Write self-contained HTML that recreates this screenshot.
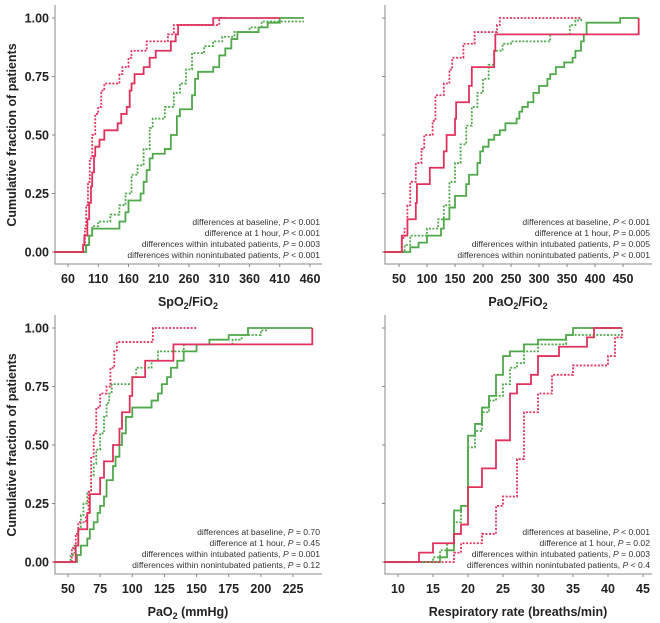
<!DOCTYPE html>
<html><head><meta charset="utf-8"><style>
body{margin:0;background:#fff;}
svg{display:block;font-family:"Liberation Sans",sans-serif;}
.tk{font-size:12.5px;font-weight:bold;fill:#222;}
.ttl{font-size:12.5px;font-weight:bold;fill:#222;}
.ann{font-size:8.6px;fill:#333;}
</style></head><body>
<svg id="c" width="660" height="623" viewBox="0 0 660 623"></svg>
<script>
// Panel 1: SpO2/FiO2
const p1Ticks=[60,110,160,210,260,310,360,410,460];
const p1RedSolidX=[85,87,92,95,98,100,103,105,112,120,142,148,157,162,165,170,185,195,205,230,238,242,300];
const p1RedSolidY=[0.03,0.07,0.14,0.21,0.28,0.34,0.41,0.45,0.48,0.52,0.55,0.59,0.62,0.69,0.72,0.76,0.79,0.83,0.86,0.90,0.93,0.97,1.0];
const p1RedDotX=[85,88,90,93,96,100,105,110,115,120,145,150,160,165,190,225,235,310];
const p1RedDotY=[0.03,0.10,0.20,0.30,0.40,0.50,0.59,0.62,0.69,0.72,0.76,0.79,0.83,0.86,0.90,0.93,0.97,1.0];
const p1GreenSolidX=[90,95,100,145,155,160,180,185,190,195,200,220,230,240,245,265,270,275,300,310,320,330,340,375,390,410];
const p1GreenSolidY=[0.03,0.07,0.10,0.13,0.17,0.22,0.25,0.30,0.35,0.40,0.42,0.44,0.50,0.58,0.61,0.67,0.74,0.77,0.79,0.84,0.87,0.91,0.94,0.96,0.98,1.0];
const p1GreenDotX=[90,95,100,110,130,145,155,165,175,185,195,200,220,235,245,255,265,285,300,315,335,360,380];
const p1GreenDotY=[0.03,0.07,0.11,0.13,0.16,0.20,0.25,0.33,0.37,0.44,0.53,0.57,0.62,0.68,0.72,0.78,0.85,0.88,0.90,0.92,0.94,0.96,0.985];
// Panel 2: PaO2/FiO2
const p2Ticks=[50,100,150,200,250,300,350,400,450];
const p2RedSolidX=[55,65,80,82,105,130,135,150,152,175,180,220,222,478];
const p2RedSolidY=[0.07,0.14,0.21,0.29,0.36,0.43,0.50,0.57,0.64,0.71,0.79,0.86,0.93,1.0];
const p2RedDotX=[55,60,65,70,80,90,95,110,115,130,140,145,165,185,225,230];
const p2RedDotY=[0.06,0.10,0.20,0.30,0.38,0.44,0.50,0.56,0.67,0.72,0.78,0.83,0.89,0.94,0.97,1.0];
const p2GreenSolidX=[70,85,100,125,130,140,150,170,175,190,195,200,210,220,230,240,260,265,270,280,290,300,315,320,330,345,360,365,375,380,385,445];
const p2GreenSolidY=[0.02,0.04,0.07,0.10,0.14,0.19,0.24,0.29,0.33,0.38,0.43,0.45,0.48,0.50,0.52,0.55,0.57,0.60,0.62,0.64,0.68,0.71,0.74,0.76,0.79,0.81,0.83,0.86,0.90,0.93,0.98,1.0];
const p2GreenDotX=[60,70,100,120,130,140,150,160,170,180,190,200,210,220,235,250,320,355,365,375];
const p2GreenDotY=[0.03,0.07,0.10,0.14,0.20,0.30,0.38,0.46,0.54,0.62,0.68,0.74,0.80,0.86,0.89,0.90,0.93,0.97,0.99,1.0];
// Panel 3: PaO2
const p3Ticks=[50,75,100,125,150,175,200,225];
const p3RedSolidX=[56,58,65,67,75,78,85,90,92,98,100,110,132,240];
const p3RedSolidY=[0.07,0.14,0.21,0.29,0.36,0.43,0.50,0.57,0.64,0.71,0.79,0.86,0.93,1.0];
const p3RedDotX=[53,56,58,64,66,68,70,72,75,80,83,86,88,116];
const p3RedDotY=[0.06,0.12,0.17,0.20,0.30,0.45,0.55,0.66,0.72,0.75,0.83,0.90,0.94,1.0];
const p3GreenSolidX=[57,60,65,67,70,73,75,78,80,85,87,90,92,95,100,115,120,123,127,130,135,140,150,160,175,190];
const p3GreenSolidY=[0.03,0.07,0.10,0.14,0.17,0.21,0.24,0.28,0.35,0.41,0.45,0.50,0.55,0.62,0.66,0.69,0.72,0.76,0.79,0.83,0.86,0.90,0.93,0.95,0.97,1.0];
const p3GreenDotX=[52,55,58,60,62,65,68,70,72,75,78,80,82,84,100,103,115,120,140,178,185,200];
const p3GreenDotY=[0.03,0.07,0.14,0.20,0.25,0.30,0.37,0.42,0.48,0.55,0.62,0.68,0.72,0.76,0.79,0.83,0.86,0.90,0.93,0.95,0.97,0.99];
// Panel 4: Respiratory rate
const p4Ticks=[10,15,20,25,30,35,40,45];
const p4RedSolidX=[13,15,18,19,20,22,24,26,27,29,30,33,37,38];
const p4RedSolidY=[0.04,0.08,0.12,0.16,0.32,0.40,0.52,0.72,0.76,0.80,0.88,0.92,0.96,1.0];
const p4RedDotX=[18,19,22,24,25,27,28,30,32,35,40,41,42];
const p4RedDotY=[0.04,0.08,0.12,0.24,0.28,0.44,0.64,0.72,0.80,0.84,0.88,0.96,1.0];
const p4GreenSolidX=[16,17,18,19,20,21,22,23,24,25,26,28,30,34,35];
const p4GreenSolidY=[0.02,0.05,0.22,0.24,0.54,0.59,0.66,0.71,0.80,0.88,0.90,0.93,0.95,0.97,1.0];
const p4GreenDotX=[15,16,17,18,19,20,21,22,23,24,25,26,27,28,30,34];
const p4GreenDotY=[0.02,0.05,0.08,0.17,0.24,0.49,0.56,0.64,0.69,0.71,0.76,0.83,0.85,0.90,0.93,0.97];
const yTicks=[0,0.25,0.5,0.75,1.0];
const yTickLabels=["0.00","0.25","0.50","0.75","1.00"];

const NS="http://www.w3.org/2000/svg";
const svg=document.getElementById('c');
function mk(tag,attrs,parent){const e=document.createElementNS(NS,tag);for(const k in attrs)e.setAttribute(k,attrs[k]);(parent||svg).appendChild(e);return e;}
const RED="#e0325c",GREEN="#4fa84a";

function panel(cfg){
  const g=mk('g',{});
  
  
  const L=cfg.ox+55,R=cfg.ox+322,T0=cfg.oy+18,B0=cfg.oy+252,AX=cfg.oy+264;
  const sx=v=>cfg.px0+(v-cfg.v0)*(cfg.px1-cfg.px0)/(cfg.v1-cfg.v0);
  const sy=v=>B0-(B0-T0)*v;
  const ax=mk('path',{d:`M${L} ${cfg.oy+5}V${AX}H${R}`,fill:'none',stroke:'#888','stroke-width':1},g);
  
  yTicks.forEach((t,i)=>{
    mk('line',{x1:L-3,x2:L,y1:sy(t),y2:sy(t),stroke:'#888'},g);
    if(cfg.showY){const tx=mk('text',{x:L-6,y:sy(t)+4.5,'text-anchor':'end',class:'tk'},g);tx.textContent=yTickLabels[i];
    }
  });
  cfg.ticks.forEach(t=>{
    mk('line',{x1:sx(t),x2:sx(t),y1:AX,y2:AX+3,stroke:'#888'},g);
    const tx=mk('text',{x:sx(t),y:AX+19,'text-anchor':'middle',class:'tk'},g);tx.textContent=t;
    
  });
  const xt=mk('text',{x:cfg.ox+188,y:cfg.oy+306,'text-anchor':'middle',class:'ttl'},g);
  xt.innerHTML=cfg.xtitle;
  
  if(cfg.showY){
    const yt=mk('text',{x:0,y:0,'text-anchor':'middle',class:'ttl',transform:`translate(16 ${cfg.oy+135}) rotate(-90)`},g);
    yt.textContent='Cumulative fraction of patients';
    
  }
  function step(xs,ys,color,dot,end,nm){
    let d=`M${sx(cfg.vmin)} ${sy(0)}`;
    let y=0;
    xs.forEach((x,i)=>{d+=`H${sx(x)}V${sy(ys[i])}`;y=ys[i];});
    d+=`H${sx(end)}`;
    const p=mk('path',{d,fill:'none',stroke:color,'stroke-width':1.8,'stroke-dasharray':dot?'2,1.6':'none'},g);
    
  }
  step(cfg.gd[0],cfg.gd[1],GREEN,true,cfg.ends[3],'green-dotted-series');
  step(cfg.gs[0],cfg.gs[1],GREEN,false,cfg.ends[2],'green-solid-series');
  step(cfg.rd[0],cfg.rd[1],RED,true,cfg.ends[1],'red-dotted-series');
  step(cfg.rs[0],cfg.rs[1],RED,false,cfg.ends[0],'red-solid-series');
  cfg.ann.forEach((a,i)=>{
    const tx=mk('text',{x:cfg.ox+320,y:cfg.oy+225+i*11,'text-anchor':'end',class:'ann'},g);
    tx.innerHTML=a;
    
  });
}
const P='<tspan font-style="italic">P</tspan>';
panel({name:'panel-spo2-fio2',ox:0,oy:0,showY:true,ticks:p1Ticks,v0:60,v1:460,px0:68,px1:310,vmin:37,
  xtitle:'SpO<tspan font-size="9" dy="3">2</tspan><tspan dy="-3">/FiO</tspan><tspan font-size="9" dy="3">2</tspan>',
  rs:[p1RedSolidX,p1RedSolidY],rd:[p1RedDotX,p1RedDotY],gs:[p1GreenSolidX,p1GreenSolidY],gd:[p1GreenDotX,p1GreenDotY],ends:[410,320,450,450],
  ann:[`differences at baseline, ${P} &lt; 0.001`,`difference at 1 hour, ${P} &lt; 0.001`,`differences within intubated patients, ${P} = 0.003`,`differences within nonintubated patients, ${P} &lt; 0.001`]});
panel({name:'panel-pao2-fio2',ox:330,oy:0,showY:false,ticks:p2Ticks,v0:50,v1:450,px0:399,px1:623,vmin:23,
  xtitle:'PaO<tspan font-size="9" dy="3">2</tspan><tspan dy="-3">/FiO</tspan><tspan font-size="9" dy="3">2</tspan>',
  rs:[p2RedSolidX,p2RedSolidY],rd:[p2RedDotX,p2RedDotY],gs:[p2GreenSolidX,p2GreenSolidY],gd:[p2GreenDotX,p2GreenDotY],ends:[478,375,478,375],
  ann:[`differences at baseline, ${P} &lt; 0.001`,`difference at 1 hour, ${P} = 0.005`,`differences within intubated patients, ${P} = 0.005`,`differences within nonintubated patients, ${P} &lt; 0.001`]});
panel({name:'panel-pao2',ox:0,oy:310,showY:true,ticks:p3Ticks,v0:50,v1:225,px0:68,px1:293,vmin:39,
  xtitle:'PaO<tspan font-size="9" dy="3">2</tspan><tspan dy="-3"> (mmHg)</tspan>',
  rs:[p3RedSolidX,p3RedSolidY],rd:[p3RedDotX,p3RedDotY],gs:[p3GreenSolidX,p3GreenSolidY],gd:[p3GreenDotX,p3GreenDotY],ends:[240,150,240,205],
  ann:[`differences at baseline, ${P} = 0.70`,`difference at 1 hour, ${P} = 0.45`,`differences within intubated patients, ${P} = 0.001`,`differences within nonintubated patients, ${P} = 0.12`]});
panel({name:'panel-respiratory-rate',ox:330,oy:310,showY:false,ticks:p4Ticks,v0:10,v1:45,px0:398,px1:643,vmin:8,
  xtitle:'Respiratory rate (breaths/min)',
  rs:[p4RedSolidX,p4RedSolidY],rd:[p4RedDotX,p4RedDotY],gs:[p4GreenSolidX,p4GreenSolidY],gd:[p4GreenDotX,p4GreenDotY],ends:[42,42,42,42],
  ann:[`differences at baseline, ${P} &lt; 0.001`,`difference at 1 hour, ${P} = 0.02`,`differences within intubated patients, ${P} = 0.003`,`differences within nonintubated patients, ${P} &lt; 0.4`]});
</script>
</body></html>
